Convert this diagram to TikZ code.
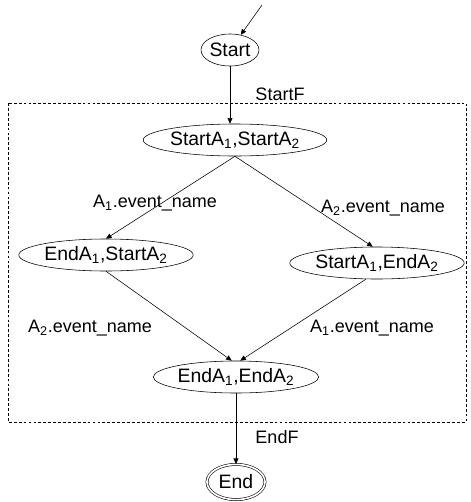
\documentclass[tikz,border=0pt]{standalone}
\usepackage{fontspec}
\setmainfont{Liberation Sans}
\usetikzlibrary{arrows.meta,shapes.geometric,positioning}

\begin{document}
\begin{tikzpicture}[
    x=0.025cm, y=-0.025cm,
    every node/.style={font=\fontsize{12.8}{15}\selectfont},
    state/.style={ellipse, draw, thin, inner sep=0pt, minimum height=0.8cm,
        font=\fontsize{13.8}{16}\selectfont},
    final/.style={state, double, double distance=1.2pt},
    trans/.style={-{Triangle[length=4pt,width=3.5pt]}, thin},
    frame/.style={thin, dash pattern=on 2pt off 1.5pt}
]
\useasboundingbox (0,0) rectangle (470,502);

% Fragment frame
\draw[frame] (8,103) rectangle (466,422);

% States
\node[state, minimum width=1.45cm] (start) at (230,50) {Start};
\node[state, minimum width=4.15cm] (sa) at (235,140) {StartA\textsubscript{1},StartA\textsubscript{2}};
\node[state, minimum width=4.15cm] (es) at (106,255) {EndA\textsubscript{1},StartA\textsubscript{2}};
\node[state, minimum width=4.1cm] (se) at (377,263) {StartA\textsubscript{1},EndA\textsubscript{2}};
\node[state, minimum width=3.95cm] (ee) at (236,377) {EndA\textsubscript{1},EndA\textsubscript{2}};
\node[final, minimum width=1.45cm, minimum height=0.88cm] (end) at (236,482) {End};

\coordinate (init) at (262,5);

% Transitions
\draw[trans] (init) -- (start);
\draw[trans] (start.south) -- (start.south |- sa.north);
\draw[trans] (sa.south) -- (es.north);
\draw[trans] (sa.south) -- ([xshift=-3pt]se.north);
\draw[trans] (es.south) -- ([xshift=-3pt]ee.north);
\draw[trans] ([xshift=-8pt]se.south) -- ([xshift=3pt]ee.north);
\draw[trans] (ee.south) -- (ee.south |- end.north);

% Labels
\node (startF) at (280,94) {StartF};
\node (endF) at (277,437) {EndF};
\node (lblA) at (155,203) {A\textsubscript{1}.event\_name};
\node (lblB) at (383,208) {A\textsubscript{2}.event\_name};
\node (lblC) at (90,328) {A\textsubscript{2}.event\_name};
\node (lblD) at (372,328) {A\textsubscript{1}.event\_name};

\end{tikzpicture}
\end{document}
